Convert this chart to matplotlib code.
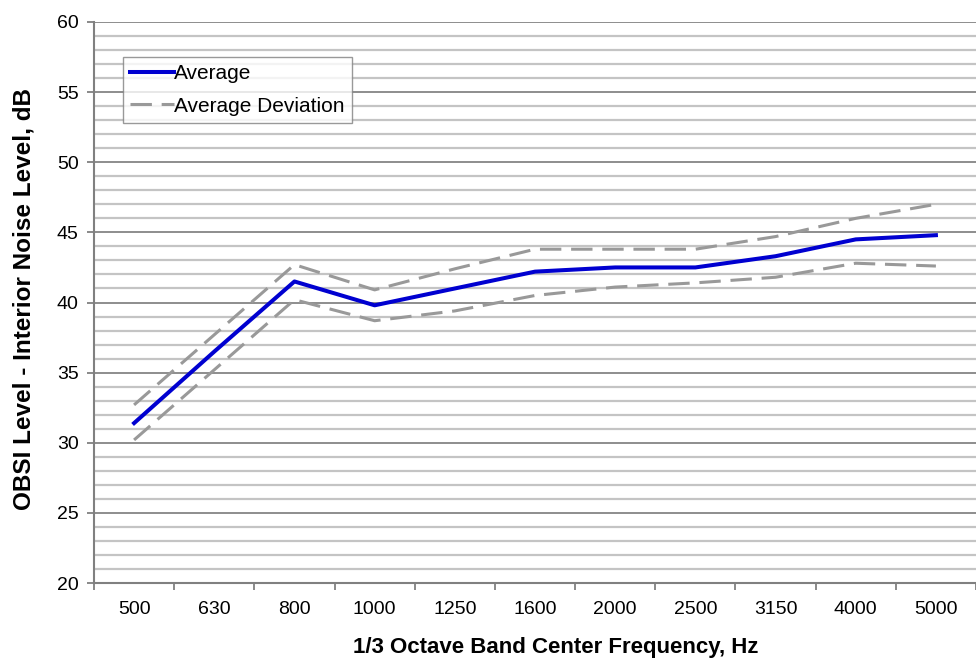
import matplotlib
matplotlib.use('Agg')
import matplotlib.pyplot as plt
from matplotlib.ticker import MultipleLocator, FixedLocator

plt.rcParams['font.family'] = ['Liberation Sans', 'DejaVu Sans']

freqs = ['500', '630', '800', '1000', '1250', '1600', '2000', '2500', '3150', '4000', '5000']
average = [31.4, 36.5, 41.5, 39.8, 41.0, 42.2, 42.5, 42.5, 43.3, 44.5, 44.8]
upper_dev = [32.7, 37.7, 42.7, 40.9, 42.4, 43.8, 43.8, 43.8, 44.7, 46.0, 47.0]
lower_dev = [30.2, 35.2, 40.2, 38.7, 39.4, 40.5, 41.1, 41.4, 41.8, 42.8, 42.6]

fig = plt.figure(figsize=(9.76, 6.61), dpi=100)
ax = fig.add_axes([94 / 976, 1 - 583 / 661, 1 - 94 / 976, (583 - 22) / 661])

x = list(range(len(freqs)))

# gridlines: light every 1 dB, darker every 5 dB
ax.set_ylim(20, 60)
ax.set_xlim(-0.5, len(freqs) - 0.5)
ax.yaxis.set_major_locator(MultipleLocator(5))
ax.yaxis.set_minor_locator(MultipleLocator(1))
ax.grid(True, which='minor', axis='y', color='#c4c4c4', linewidth=1.6)
ax.grid(True, which='major', axis='y', color='#858585', linewidth=1.3)
ax.set_axisbelow(True)

ax.plot(x, average, color='#0000d0', linewidth=2.9, label='Average', zorder=3)
ax.plot(x, upper_dev, color='#999999', linewidth=2.2, dashes=(7, 3.2),
        label='Average Deviation', zorder=2)
ax.plot(x, lower_dev, color='#999999', linewidth=2.2, dashes=(7, 3.2), zorder=2)

ax.set_xticks(x)
ax.set_xticklabels(freqs)
ax.xaxis.set_minor_locator(FixedLocator([i - 0.5 for i in range(len(freqs) + 1)]))
ax.tick_params(axis='x', which='major', length=0, pad=13, labelsize=14)
ax.tick_params(axis='x', which='minor', length=5, color='#808080', width=1.3)
ax.tick_params(axis='y', which='major', length=5, color='#808080', width=1.3,
               labelsize=14, pad=6)
ax.tick_params(axis='y', which='minor', length=0)

for side in ['top', 'right']:
    ax.spines[side].set_visible(False)
for side in ['left', 'bottom']:
    ax.spines[side].set_color('#808080')
    ax.spines[side].set_linewidth(1.5)

ax.set_xlabel('1/3 Octave Band Center Frequency, Hz', fontsize=16, fontweight='bold')
ax.set_ylabel('OBSI Level - Interior Noise Level, dB', fontsize=17.5, fontweight='bold')
ax.xaxis.set_label_coords(0.523, -0.097)
ax.yaxis.set_label_coords(-0.066, 0.506)

leg = ax.legend(loc='upper left', bbox_to_anchor=(0.033, 0.938), fontsize=15,
                frameon=True, fancybox=False, handlelength=2.1, handletextpad=0.0,
                borderpad=0.35, labelspacing=0.65, borderaxespad=0)
leg.get_frame().set_edgecolor('#808080')
leg.get_frame().set_linewidth(1.0)

fig.savefig('out.png', dpi=100)
